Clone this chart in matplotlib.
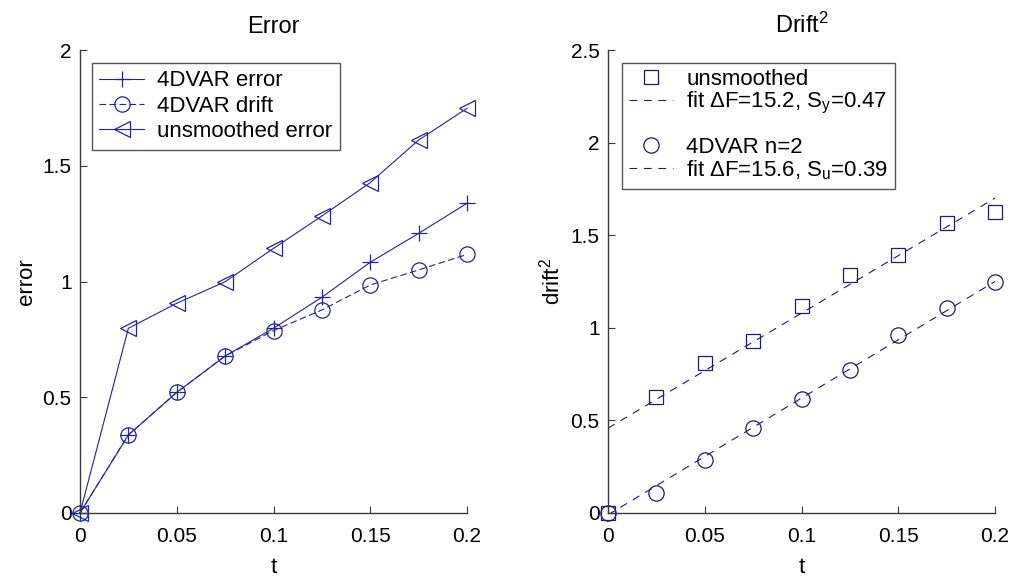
import numpy as np
import matplotlib
matplotlib.use("Agg")
import matplotlib.pyplot as plt

plt.rcParams['font.family'] = ['Liberation Sans', 'DejaVu Sans']
plt.rcParams['mathtext.fontset'] = 'custom'
plt.rcParams['mathtext.rm'] = 'Liberation Sans'
plt.rcParams['mathtext.it'] = 'Liberation Sans'

# Data
t = np.array([0, 0.025, 0.05, 0.075, 0.1, 0.125, 0.15, 0.175, 0.2])

# left panel: error
err_4dvar = [0, 0.337, 0.521, 0.678, 0.798, 0.932, 1.083, 1.208, 1.338]
drift_4dvar = [0, 0.337, 0.521, 0.678, 0.788, 0.877, 0.985, 1.050, 1.117]
err_unsmoothed = [0, 0.798, 0.906, 0.999, 1.143, 1.283, 1.427, 1.611, 1.748]

# right panel: drift^2
drift2_unsmoothed = [0, 0.625, 0.809, 0.931, 1.119, 1.283, 1.395, 1.566, 1.623]
drift2_4dvar = [0, 0.106, 0.285, 0.461, 0.616, 0.773, 0.962, 1.106, 1.250]
fit_unsmoothed = [0.458, 1.70]   # line values at t=0 and t=0.2
fit_4dvar = [-0.01, 1.25]

xticks = [0, 0.05, 0.1, 0.15, 0.2]
xticklabels = ['0', '0.05', '0.1', '0.15', '0.2']
yticks_left = [0, 0.5, 1, 1.5, 2]
yticklabels_left = ['0', '0.5', '1', '1.5', '2']
yticks_right = [0, 0.5, 1, 1.5, 2, 2.5]
yticklabels_right = ['0', '0.5', '1', '1.5', '2', '2.5']

blue = '#23239a'
navy = '#1c1c70'

fig = plt.figure(figsize=(10.18, 5.78), dpi=100)
ax1 = fig.add_axes([80 / 1018, 1 - 513 / 578, 387 / 1018, 463 / 578])
ax2 = fig.add_axes([608 / 1018, 1 - 513 / 578, 387 / 1018, 463 / 578])


def style_axes(ax, yticks, yticklabels, ymax):
    ax.set_xlim(0, 0.2)
    ax.set_ylim(0, ymax)
    ax.set_xticks(xticks)
    ax.set_xticklabels(xticklabels)
    ax.set_yticks(yticks)
    ax.set_yticklabels(yticklabels)
    for s in ['top', 'right']:
        ax.spines[s].set_visible(False)
    for s in ['left', 'bottom']:
        ax.spines[s].set_color('#3a3a3a')
        ax.spines[s].set_linewidth(1.0)
    ax.tick_params(direction='in', length=5, width=0.8, color='#3a3a3a',
                   labelsize=15, pad=6)
    ax.tick_params(axis='x', pad=10)
    ax.patch.set_visible(False)


# left panel
ax1.plot(t, err_4dvar, color=blue, lw=0.8, marker='+', ms=11, mew=0.9,
         label='4DVAR error', clip_on=False)
ax1.plot(t, drift_4dvar, color=blue, lw=0.8, ls=(0, (6, 3)), marker='o', ms=11,
         mfc='none', mew=0.9, label='4DVAR drift', clip_on=False)
ax1.plot(t, err_unsmoothed, color=blue, lw=0.8, marker='<', ms=11, mfc='none',
         mew=0.9, label='unsmoothed error', clip_on=False)
style_axes(ax1, yticks_left, yticklabels_left, 2)
ax1.set_title('Error', fontsize=17, pad=12)
ax1.set_xlabel('t', fontsize=16, labelpad=8)
ax1.set_ylabel('error', fontsize=16, labelpad=4)
leg1 = ax1.legend(loc='upper left', bbox_to_anchor=(0.03, 0.973), fontsize=16,
                  frameon=True, fancybox=False, edgecolor='#2a2a2a',
                  handlelength=2.0, handletextpad=0.6, labelspacing=0.2,
                  borderpad=0.35, borderaxespad=0)
leg1.get_frame().set_linewidth(1.0)

# right panel
h_sq, = ax2.plot(t, drift2_unsmoothed, ls='none', marker='s', ms=10, mfc='none',
                 mec=navy, mew=0.9, clip_on=False)
h_f1, = ax2.plot([t[0], t[-1]], fit_unsmoothed, color=navy, lw=0.8, ls=(0, (7, 6)))
h_ci, = ax2.plot(t, drift2_4dvar, ls='none', marker='o', ms=11, mfc='none',
                 mec=navy, mew=0.9, clip_on=False)
h_f2, = ax2.plot([t[0], t[-1]], fit_4dvar, color=navy, lw=0.8, ls=(0, (7, 6)))
h_gap, = ax2.plot([], [], ls='none')
style_axes(ax2, yticks_right, yticklabels_right, 2.5)
ax2.set_title('Drift$^2$', fontsize=17, pad=12)
ax2.set_xlabel('t', fontsize=16, labelpad=8)
ax2.set_ylabel('drift$^2$', fontsize=16, labelpad=4)
leg2 = ax2.legend([h_sq, h_f1, h_gap, h_ci, h_f2],
                  ['unsmoothed', 'fit $\\Delta$F=15.2, S$_y$=0.47', '',
                   '4DVAR n=2', 'fit $\\Delta$F=15.6, S$_u$=0.39'],
                  loc='upper left', bbox_to_anchor=(0.036, 0.973), fontsize=16,
                  frameon=True, fancybox=False, edgecolor='#2a2a2a',
                  handlelength=2.0, handletextpad=0.6, labelspacing=0.0,
                  borderpad=0.3, borderaxespad=0)
leg2.get_frame().set_linewidth(1.0)

fig.savefig('out.png', dpi=100)
